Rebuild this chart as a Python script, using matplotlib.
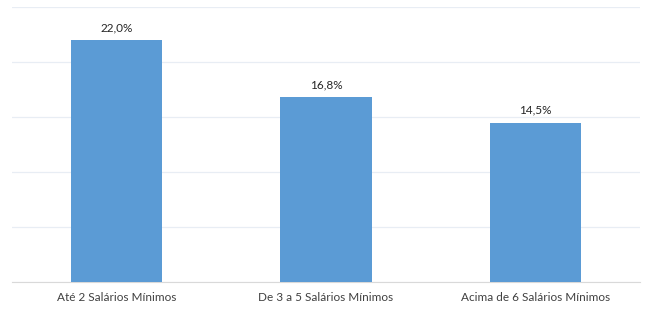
import numpy as np
import matplotlib.pyplot as plt

categorias = ['Até 2 Salários Mínimos', 'De 3 a 5 Salários Mínimos', 'Acima de 6 Salários Mínimos']
valores = [22.0, 16.8, 14.5]

plt.rcParams['font.family'] = ['Lato', 'DejaVu Sans']

fig = plt.figure(figsize=(6.5, 3.16), dpi=100)
ax = fig.add_axes([12/650, 34/316, 628/650, 275/316])

x = np.arange(len(categorias))
ax.bar(x, valores, width=0.435, color='#5B9BD5', zorder=3)
for xi, v in zip(x, valores):
    ax.text(xi, v + 0.6, f'{v:.1f}%'.replace('.', ','), ha='center', va='bottom',
            fontsize=8.5, color='#262626')

ax.set_xlim(-0.5, 2.5)
ax.set_ylim(0, 25)
ax.set_yticks(np.arange(0, 26, 5))
ax.yaxis.grid(True, color='#e8edf4', linewidth=0.9, zorder=0)
ax.set_yticklabels([])
ax.tick_params(axis='y', length=0)
ax.tick_params(axis='x', length=0, pad=7)
ax.set_xticks(x)
ax.set_xticklabels(categorias, fontsize=8.5, color='#404040')
for s in ['top', 'right', 'left']:
    ax.spines[s].set_visible(False)
ax.spines['bottom'].set_color('#d9d9d9')

fig.savefig('out.png')
